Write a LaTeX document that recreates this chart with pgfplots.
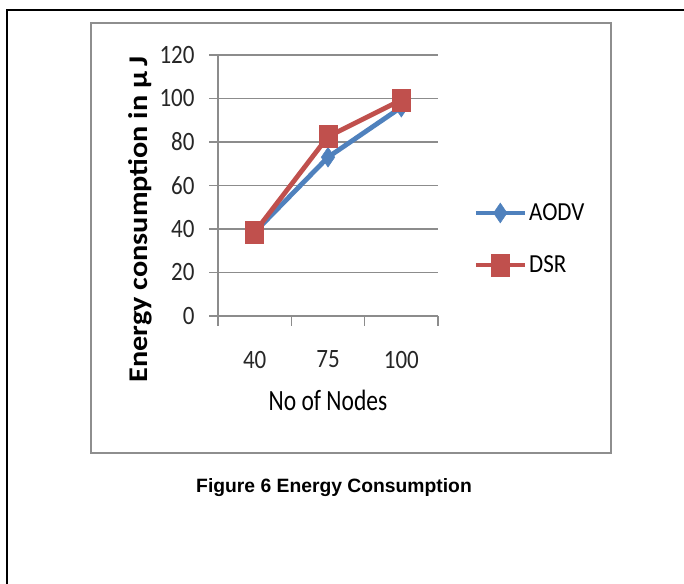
\documentclass[border=0pt]{standalone}
\usepackage{pgfplots}
\pgfplotsset{compat=1.18}
\usepackage{fontspec}
\setmainfont{Carlito}
\newfontfamily\arialfont{Liberation Sans}
\definecolor{aodv}{HTML}{4F81BD}
\definecolor{dsr}{HTML}{C0504D}
\definecolor{axgray}{HTML}{8C8C8C}
\definecolor{boxgray}{HTML}{8E8E8E}
\begin{document}
\begin{tikzpicture}
\path[use as bounding box] (0,0) rectangle (684bp,584bp);
\draw[line width=2bp] (7bp,0) -- (7bp,574bp) -- (690bp,574bp);
\draw[line width=2.2bp, color=boxgray] (91bp,131bp) rectangle (611bp,561bp);
\begin{axis}[
  at={(218bp,268bp)}, anchor=south west,
  scale only axis, width=220bp, height=261bp,
  xmin=0, xmax=3, ymin=0, ymax=120,
  clip=false,
  axis x line=bottom, axis y line=left,
  axis line style={axgray, line width=1.1bp, -},
  xtick={0.5,1.5,2.5}, xticklabels={40,75,100},
  minor xtick={0,1,2,3},
  major x tick style={draw=none},
  minor x tick style={axgray, line width=1.1bp},
  ytick={0,20,...,120},
  y tick style={axgray, line width=1.1bp},
  tick align=outside,
  major tick length=9bp, minor tick length=10bp,
  ymajorgrids, grid style={axgray, line width=1.1bp},
  /pgf/number format/assume math mode=true,
  ticklabel style={font=\fontsize{23bp}{27bp}\selectfont, text=black!85, yscale=1.15},
  yticklabel style={xshift=-11bp},
  xticklabel style={yshift=-19bp},
  xlabel={No of Nodes},
  xlabel style={font=\fontsize{23.5bp}{28bp}\selectfont, yscale=1.25, at={(axis description cs:0.5,-0.322)}, anchor=center},
  ylabel={\textbf{Energy consumption in µ\,J}},
  ylabel style={font=\fontsize{27bp}{30bp}\selectfont, xscale=1.12, at={(axis description cs:-0.355,0.37)}, anchor=center},
  legend style={draw=none, fill=none, at={(axis description cs:1.16,0.295)}, anchor=west,
    font=\fontsize{23bp}{27bp}\selectfont, row sep=29bp, inner sep=0pt,
    legend cell align=left, nodes={yscale=1.13}},
  legend image code/.code={\draw[mark repeat=2,mark phase=2] plot coordinates {(0bp,0bp) (24.5bp,0bp) (49bp,0bp)};},
]
\addplot[color=aodv, line width=4.8bp, mark=diamond*, mark size=9bp, mark options={fill=aodv, line width=0.5bp, yscale=1.1}]
  coordinates {(0.5,38.5) (1.5,73) (2.5,96)};
\addlegendentry{AODV}
\addplot[color=dsr, line width=4.8bp, mark=square*, mark size=9bp, mark options={fill=dsr, line width=0.5bp, yscale=1.22}]
  coordinates {(0.5,38.5) (1.5,82.5) (2.5,99.3)};
\addlegendentry{DSR}
\end{axis}
\node[font=\arialfont\bfseries\fontsize{19.3bp}{22bp}\selectfont] at (334bp,96bp) {Figure 6 Energy Consumption};
\end{tikzpicture}
\end{document}
